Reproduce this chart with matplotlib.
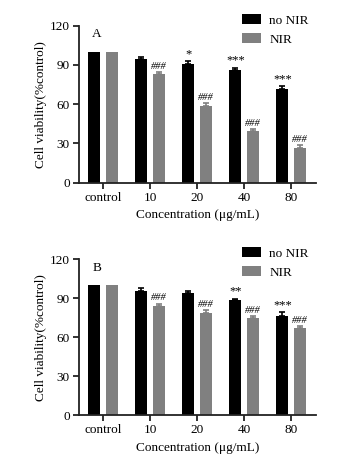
import matplotlib
matplotlib.use("Agg")
import matplotlib.pyplot as plt
import numpy as np
from matplotlib.patches import Patch

plt.rcParams['font.family'] = ['Liberation Serif', 'DejaVu Serif']

categories = ["control", "10", "20", "40", "80"]
series_names = ["no NIR", "NIR"]

a_no_nir = [100, 94.3, 91.0, 86.0, 71.8]
a_no_nir_err = [0, 2.0, 1.8, 1.8, 2.0]
a_nir = [100, 82.8, 58.8, 39.3, 26.8]
a_nir_err = [0, 2.0, 2.0, 2.0, 2.2]
a_no_nir_sig = ["", "", "*", "***", "***"]
a_nir_sig = ["", "###", "###", "###", "###"]

b_no_nir = [100, 95.6, 94.2, 88.5, 76.4]
b_no_nir_err = [0, 2.0, 1.8, 1.2, 3.0]
b_nir = [100, 84.2, 79.0, 74.5, 66.8]
b_nir_err = [0, 1.8, 2.0, 1.8, 2.2]
b_no_nir_sig = ["", "", "", "**", "***"]
b_nir_sig = ["", "###", "###", "###", "###"]

yticks = [0, 30, 60, 90, 120]
colors = ["#000000", "#808080"]

W, H = 342, 461
fig = plt.figure(figsize=(W/100, H/100), dpi=100)
FS = 9.5

def panel(rect, label, v1, e1, v2, e2, s1, s2):
    ax = fig.add_axes(rect)
    x = np.arange(len(categories))
    bw = 0.255
    off = 0.185
    for vals, errs, sigs, c, o in [(v1, e1, s1, colors[0], -off), (v2, e2, s2, colors[1], off)]:
        ax.bar(x + o, vals, width=bw, color=c, zorder=2)
        xe = [xi + o for xi, er in zip(x, errs) if er > 0]
        ye = [v for v, er in zip(vals, errs) if er > 0]
        ee = [er for er in errs if er > 0]
        ax.errorbar(xe, ye, yerr=[np.zeros(len(ee)), ee], fmt='none', ecolor=c,
                    elinewidth=1.2, capsize=2.5, capthick=1.2, zorder=3)
        for xi, v, er, s in zip(x, vals, errs, sigs):
            if s:
                if s.startswith("*"):
                    ax.text(xi + o, v + er + 0.8, s, ha='center', va='bottom', fontsize=9)
                else:
                    ax.text(xi + o, v + er + 0.8, s, ha='center', va='bottom', fontsize=7.5,
                            style='italic')
    ax.set_xlim(-0.51, 4.53)
    ax.set_ylim(0, 120)
    ax.set_yticks(yticks)
    ax.set_xticks(x)
    ax.set_xticklabels(categories)
    for sp in ['top', 'right']:
        ax.spines[sp].set_visible(False)
    for sp in ['left', 'bottom']:
        ax.spines[sp].set_linewidth(1.3)
        ax.spines[sp].set_color('#222222')
    ax.tick_params(axis='both', labelsize=FS, width=1.3, length=4, direction='out',
                   color='#222222', pad=2.5)
    ax.set_xlabel("Concentration (μg/mL)", fontsize=FS, labelpad=4)
    ax.set_ylabel("Cell viability(%control)", fontsize=FS, labelpad=2)
    ax.text(-0.13, 113.5, label, ha='center', va='center', fontsize=FS)
    return ax

ax1 = panel([79/W, 1-182.7/H, 237/W, 157/H], "A", a_no_nir, a_no_nir_err, a_nir, a_nir_err, a_no_nir_sig, a_nir_sig)
ax2 = panel([79/W, 1-415.3/H, 237/W, 156/H], "B", b_no_nir, b_no_nir_err, b_nir, b_nir_err, b_no_nir_sig, b_nir_sig)

for ax, ytop in [(ax1, 5), (ax2, 238)]:
    handles = [Patch(facecolor=colors[0]), Patch(facecolor=colors[1])]
    fig.legend(handles, series_names, loc='upper left', bbox_to_anchor=(233/W, 1-ytop/H),
               frameon=False, fontsize=FS, handlelength=1.4, handleheight=0.75,
               handletextpad=0.65, labelspacing=0.5, borderpad=0.2)

fig.savefig("out.png", dpi=100, facecolor='white')
